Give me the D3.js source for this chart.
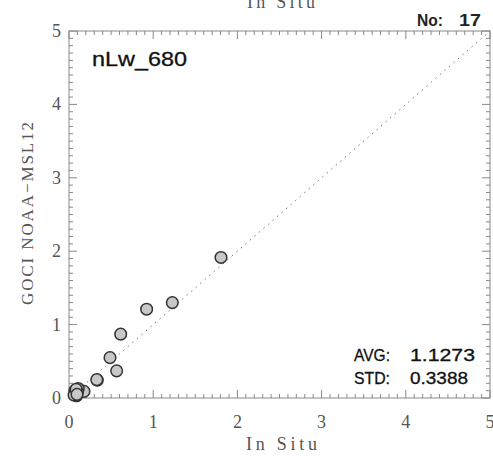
<!DOCTYPE html>
<html>
<head>
<meta charset="utf-8">
<script src="https://cdn.jsdelivr.net/npm/d3@7"></script>
<style>
  body { margin: 0; background: #fff; }
</style>
</head>
<body>
<div id="chart"></div>
<script>
// GOCI nLw_680 match-up scatter (In Situ vs NOAA-MSL12)
const width = 493;
const height = 456;

// data
const inSitu = [1.805, 1.227, 0.922, 0.614, 0.487, 0.566, 0.336, 0.330,
  0.178, 0.110, 0.080, 0.090, 0.070, 0.100, 0.060, 0.085, 0.095];
const goci = [1.915, 1.300, 1.210, 0.870, 0.550, 0.370, 0.244, 0.250,
  0.090, 0.130, 0.060, 0.030, 0.100, 0.080, 0.040, 0.120, 0.050];
const tickValues = [0, 1, 2, 3, 4, 5];
const bandName = "nLw_680";
const count = ["No:", "17"];
const statLabels = ["AVG:", "STD:"];
const statValues = ["1.1273", "0.3388"];

const svg = d3.select("#chart")
  .append("svg")
  .attr("width", width)
  .attr("height", height);

const x = d3.scaleLinear().domain([0, 5]).range([69, 490]);
const y = d3.scaleLinear().domain([0, 5]).range([398, 31]);

const axisColor = "#888";
const labelColor = "#555";
const serif = "'Liberation Serif', 'DejaVu Serif', serif";
const sans = "'Liberation Sans', Arial, sans-serif";

// clipped title from the plot above
svg.append("text")
  .attr("x", 247)
  .attr("y", 8)
  .attr("font-family", serif)
  .attr("font-size", 18)
  .attr("textLength", 68)
  .attr("lengthAdjust", "spacing")
  .attr("fill", labelColor)
  .text("In Situ");

// 1:1 line
svg.append("line")
  .attr("x1", x(0)).attr("y1", y(0))
  .attr("x2", x(5)).attr("y2", y(5))
  .attr("stroke", "#777")
  .attr("stroke-width", 1)
  .attr("stroke-dasharray", "1.5,4.5");

// major and minor ticks on all four sides
const minor = d3.range(0, 50.1, 1).map(d => d / 10);
const tg = svg.append("g").attr("stroke", axisColor).attr("stroke-width", 1);
minor.forEach(v => {
  const major = Math.abs(v - Math.round(v)) < 1e-6;
  const len = major ? 8 : 4;
  tg.append("line").attr("x1", x(v)).attr("x2", x(v)).attr("y1", y(0)).attr("y2", y(0) - len);
  tg.append("line").attr("x1", x(v)).attr("x2", x(v)).attr("y1", y(5)).attr("y2", y(5) + len);
  tg.append("line").attr("y1", y(v)).attr("y2", y(v)).attr("x1", x(0)).attr("x2", x(0) + len);
  tg.append("line").attr("y1", y(v)).attr("y2", y(v)).attr("x1", x(5)).attr("x2", x(5) - len);
});

// frame
svg.append("rect")
  .attr("x", x(0)).attr("y", y(5))
  .attr("width", x(5) - x(0)).attr("height", y(0) - y(5))
  .attr("fill", "none")
  .attr("stroke", axisColor)
  .attr("stroke-width", 1);

// tick labels
svg.append("g").selectAll("text")
  .data(tickValues)
  .join("text")
  .attr("x", d => x(d))
  .attr("y", 428)
  .attr("text-anchor", "middle")
  .attr("font-family", serif)
  .attr("font-size", 18)
  .attr("fill", labelColor)
  .text(d => d);

svg.append("g").selectAll("text")
  .data(tickValues)
  .join("text")
  .attr("x", 61)
  .attr("y", d => y(d) + 6)
  .attr("text-anchor", "end")
  .attr("font-family", serif)
  .attr("font-size", 18)
  .attr("fill", labelColor)
  .text(d => d);

// axis titles
svg.append("text")
  .attr("x", 246)
  .attr("y", 450)
  .attr("font-family", serif)
  .attr("font-size", 18)
  .attr("textLength", 71)
  .attr("lengthAdjust", "spacing")
  .attr("fill", labelColor)
  .text("In Situ");

svg.append("text")
  .attr("transform", "translate(33,305) rotate(-90)")
  .attr("font-family", serif)
  .attr("font-size", 17)
  .attr("textLength", 183)
  .attr("lengthAdjust", "spacing")
  .attr("fill", labelColor)
  .text("GOCI NOAA\u2212MSL12");

// points
svg.append("g").selectAll("circle")
  .data(inSitu.map((d, i) => [d, goci[i]]))
  .join("circle")
  .attr("cx", d => x(d[0]))
  .attr("cy", d => y(d[1]))
  .attr("r", 5.8)
  .attr("fill", "#c8c8c8")
  .attr("stroke", "#333")
  .attr("stroke-width", 1.5);

// annotations
svg.append("text")
  .attr("x", 92)
  .attr("y", 66)
  .attr("font-family", sans)
  .attr("font-size", 20)
  .attr("textLength", 95)
  .attr("lengthAdjust", "spacingAndGlyphs")
  .attr("fill", "#111")
  .attr("stroke", "#111")
  .attr("stroke-width", 0.3)
  .text(bandName);

svg.append("text")
  .attr("x", 417)
  .attr("y", 26)
  .attr("font-family", sans)
  .attr("font-size", 17)
  .attr("font-weight", "bold")
  .attr("textLength", 26)
  .attr("lengthAdjust", "spacingAndGlyphs")
  .attr("fill", "#222")
  .text(count[0]);

svg.append("text")
  .attr("x", 459)
  .attr("y", 26)
  .attr("font-family", sans)
  .attr("font-size", 17)
  .attr("font-weight", "bold")
  .attr("textLength", 22)
  .attr("lengthAdjust", "spacingAndGlyphs")
  .attr("fill", "#222")
  .text(count[1]);

const stats = svg.append("g")
  .attr("font-family", sans)
  .attr("font-size", 16)
  .attr("fill", "#111")
  .attr("stroke", "#111")
  .attr("stroke-width", 0.3);

stats.selectAll("text.lab")
  .data(statLabels)
  .join("text")
  .attr("class", "lab")
  .attr("x", 354)
  .attr("y", (d, i) => 361 + i * 23)
  .attr("textLength", 36)
  .attr("lengthAdjust", "spacingAndGlyphs")
  .text(d => d);

stats.selectAll("text.val")
  .data(statValues)
  .join("text")
  .attr("class", "val")
  .attr("x", 410)
  .attr("y", (d, i) => 361 + i * 23)
  .attr("textLength", (d, i) => i === 0 ? 65 : 58)
  .attr("lengthAdjust", "spacingAndGlyphs")
  .text(d => d);
</script>
</body>
</html>
